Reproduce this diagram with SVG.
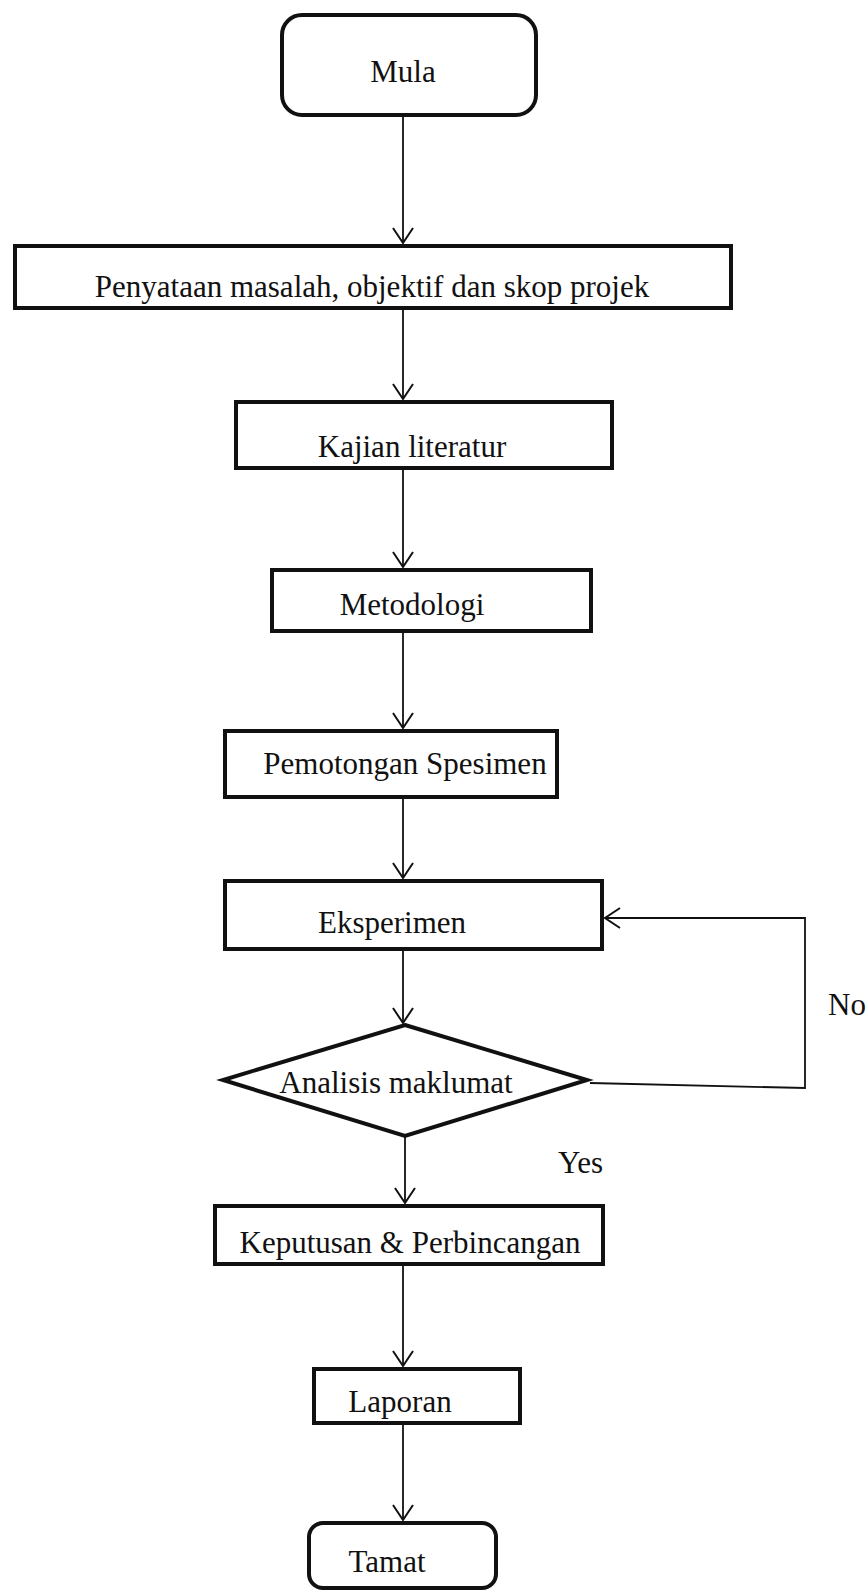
<svg xmlns="http://www.w3.org/2000/svg" width="868" height="1592" viewBox="0 0 868 1592">
<style>
.box{fill:#fff;stroke:#111;stroke-width:4}
.lbl{font-family:"Liberation Serif","Times New Roman",serif;font-size:31px;fill:#111;text-anchor:middle}
.side{font-family:"Liberation Serif","Times New Roman",serif;font-size:31px;fill:#111}
.conn{fill:none;stroke:#111;stroke-width:1.8}
</style>
<defs>
<marker id="arr" markerUnits="userSpaceOnUse" markerWidth="30" markerHeight="30" viewBox="-20 -15 30 30" refX="0" refY="0" orient="auto" overflow="visible">
<path d="M-15,-10 L0,0 L-15,10" fill="none" stroke="#111" stroke-width="2"/>
</marker>
</defs>
<rect width="868" height="1592" fill="#fff"/>
<g id="connectors">
<line class="conn" x1="403" y1="117" x2="403" y2="243" marker-end="url(#arr)"/>
<line class="conn" x1="403" y1="310" x2="403" y2="399" marker-end="url(#arr)"/>
<line class="conn" x1="403" y1="470" x2="403" y2="567" marker-end="url(#arr)"/>
<line class="conn" x1="403" y1="633" x2="403" y2="728" marker-end="url(#arr)"/>
<line class="conn" x1="403" y1="799" x2="403" y2="878" marker-end="url(#arr)"/>
<line class="conn" x1="403" y1="951" x2="403" y2="1023" marker-end="url(#arr)"/>
<line class="conn" x1="405" y1="1137" x2="405" y2="1203" marker-end="url(#arr)"/>
<line class="conn" x1="403" y1="1266" x2="403" y2="1366" marker-end="url(#arr)"/>
<line class="conn" x1="403" y1="1425" x2="403" y2="1520" marker-end="url(#arr)"/>
<path class="conn" d="M590,1083 L805,1088 L805,918 L605,918" marker-end="url(#arr)"/>
</g>
<g id="mula"><rect class="box" x="282" y="15" width="254" height="100" rx="20"/><text class="lbl" x="403" y="82">Mula</text></g>
<g id="penyataan"><rect class="box" x="15" y="246" width="716" height="62"/><text class="lbl" x="372" y="297">Penyataan masalah, objektif dan skop projek</text></g>
<g id="kajian"><rect class="box" x="236" y="402" width="376" height="66"/><text class="lbl" x="412" y="457">Kajian literatur</text></g>
<g id="metodologi"><rect class="box" x="272" y="570" width="319" height="61"/><text class="lbl" x="412" y="615">Metodologi</text></g>
<g id="pemotongan"><rect class="box" x="225" y="731" width="332" height="66"/><text class="lbl" x="405" y="774">Pemotongan Spesimen</text></g>
<g id="eksperimen"><rect class="box" x="225" y="881" width="377" height="68"/><text class="lbl" x="392" y="933">Eksperimen</text></g>
<g id="analisis"><polygon class="box" points="405,1025 587,1080 405,1136 223,1080"/><text class="lbl" x="396" y="1093">Analisis maklumat</text></g>
<g id="keputusan"><rect class="box" x="215" y="1206" width="388" height="58"/><text class="lbl" x="410" y="1253">Keputusan &amp; Perbincangan</text></g>
<g id="laporan"><rect class="box" x="314" y="1369" width="206" height="54"/><text class="lbl" x="400" y="1412">Laporan</text></g>
<g id="tamat"><rect class="box" x="309" y="1523" width="187" height="65" rx="14"/><text class="lbl" x="387" y="1572">Tamat</text></g>
<g id="labels"><text class="side" x="828" y="1015">No</text><text class="side" x="558" y="1173">Yes</text></g>
</svg>
